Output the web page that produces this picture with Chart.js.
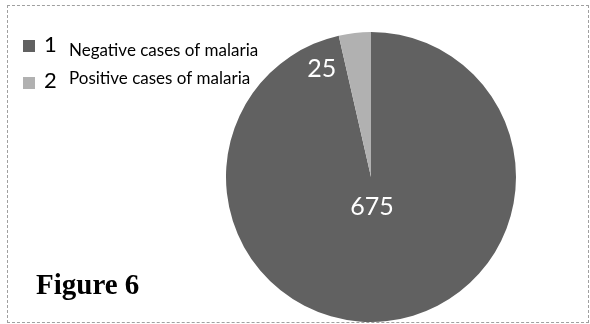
<!DOCTYPE html>
<html>
<head>
<meta charset="utf-8">
<script src="https://cdn.jsdelivr.net/npm/chart.js@4.4.1/dist/chart.umd.min.js"></script>
<style>
  html, body { margin: 0; padding: 0; background: #fff; }
  #wrap { position: relative; width: 590px; height: 324px; }
  #frame {
    position: absolute; left: 7px; top: 5px; width: 580px; height: 316px;
    border: 1px dashed #a0a0a0; pointer-events: none;
  }
  #fig {
    position: absolute; left: 36px; top: 268px;
    font: bold 29px "Liberation Serif", "Times New Roman", serif; color: #000;
  }
</style>
</head>
<body>
<div id="wrap">
  <canvas id="pie" width="590" height="324"></canvas>
  <div id="frame"></div>
  <div id="fig">Figure 6</div>
</div>
<script>
// Datos del gráfico
const categories = ['Negative cases of malaria', 'Positive cases of malaria'];
const legendNumbers = ['1', '2'];
const cases = [675, 25];
const sliceColors = ['#616161', '#b1b1b1'];

// Posición de las etiquetas dentro de cada porción (fracción del radio, giro en grados)
const labelPlace = [
  { frac: 0.21, turn: 4.6, size: 25 },
  { frac: 0.82, turn: -18, size: 25 }
];

// Etiquetas de valor en blanco sobre las porciones
const valueLabels = {
  id: 'valueLabels',
  afterDatasetsDraw(chart) {
    const ctx = chart.ctx;
    const arcs = chart.getDatasetMeta(0).data;
    ctx.save();
    ctx.fillStyle = '#fff';
    ctx.textAlign = 'center';
    ctx.textBaseline = 'middle';
    arcs.forEach(function(arc, i) {
      const p = arc.getProps(['x', 'y', 'startAngle', 'endAngle', 'outerRadius'], true);
      const place = labelPlace[i];
      const mid = (p.startAngle + p.endAngle) / 2 + place.turn * Math.PI / 180;
      const r = p.outerRadius * place.frac;
      ctx.font = place.size + 'px Lato';
      ctx.fillText(String(cases[i]), p.x + Math.cos(mid) * r, p.y + Math.sin(mid) * r);
    });
    ctx.restore();
  }
};

// Leyenda dibujada a mano encima del gráfico
const manualLegend = {
  id: 'manualLegend',
  afterDraw(chart) {
    const ctx = chart.ctx;
    const rows = [
      { box: 40, num: 52, text: 56 },
      { box: 77, num: 88, text: 84 }
    ];
    ctx.save();
    ctx.textBaseline = 'alphabetic';
    rows.forEach(function(row, i) {
      ctx.fillStyle = sliceColors[i];
      ctx.fillRect(23, row.box, 12, 12);
      ctx.fillStyle = '#000';
      ctx.font = '22px Lato';
      ctx.fillText(legendNumbers[i], 44, row.num);
      ctx.font = '17px Lato';
      ctx.fillText(categories[i], 69, row.text);
    });
    ctx.restore();
  }
};

document.addEventListener('DOMContentLoaded', function() {
  const ctx = document.getElementById('pie').getContext('2d');
  new Chart(ctx, {
    type: 'pie',
    data: {
      labels: categories,
      datasets: [{
        data: cases,
        backgroundColor: sliceColors,
        borderWidth: 0
      }]
    },
    options: {
      responsive: false,
      animation: false,
      layout: { padding: { left: 226, right: 74, top: 32, bottom: 2 } },
      plugins: {
        legend: { display: false },
        tooltip: { enabled: false }
      }
    },
    plugins: [valueLabels, manualLegend]
  });
});
</script>
</body>
</html>
